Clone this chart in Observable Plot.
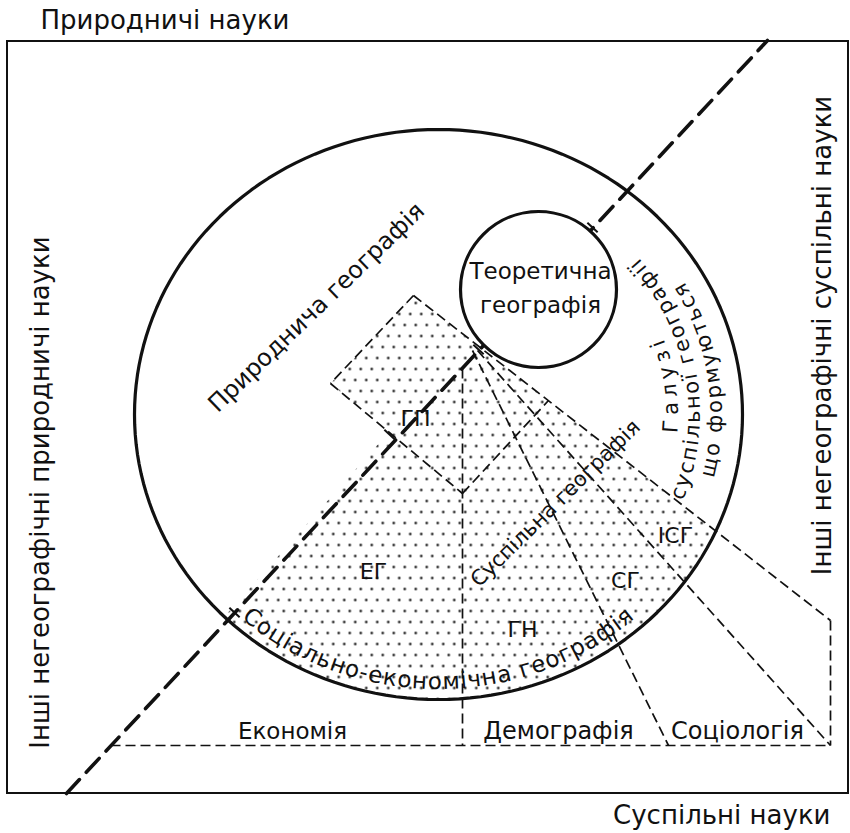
<!DOCTYPE html>
<html><head><meta charset="utf-8">
<script src="https://cdn.jsdelivr.net/npm/d3@7"></script>
<script src="https://cdn.jsdelivr.net/npm/@observablehq/plot@0.6"></script>
<style>
body{margin:0;background:#fff}
g[aria-label="spaced"] text{letter-spacing:8px}
</style></head><body><div id="chart"></div>
<script>
// ---- diagram data (pixel coordinates of the scheme) ----
const frame = [{x1: 7, y1: 41, x2: 848, y2: 793}];
const bigEllipse = {cx: 438, cy: 414, rx: 304, ry: 285};
const smallCircle = [{x: 538, y: 289}];
const smallCircleR = 78;
const diagonal = [{x: 66, y: 793}, {x: 767, y: 40}];
const gpTop = {x: 413, y: 295}, gpLeft = {x: 330, y: 383};
const gpDiagCross = {x: 388, y: 432};
const longLineEnd = {x: 830, y: 620};
const thinSegments = [
  {x1: 413, y1: 295, x2: 330, y2: 383},
  {x1: 330, y1: 383, x2: 462, y2: 493},
  {x1: 462, y1: 493, x2: 548, y2: 400},
  {x1: 413, y1: 295, x2: 830, y2: 620},
  {x1: 830, y1: 620, x2: 830, y2: 745},
  {x1: 462, y1: 368, x2: 462, y2: 745},
  {x1: 472, y1: 350, x2: 668, y2: 745},
  {x1: 477, y1: 350, x2: 830, y2: 745},
  {x1: 110, y1: 745, x2: 830, y2: 745}
];
const crossTicks = [{x: 592, y: 227}, {x: 478, y: 349}, {x: 389, y: 434}, {x: 234, y: 612}];
const shortLabels = [
  {text: "ГП", x: 415, y: 418},
  {text: "ЕГ", x: 373, y: 571},
  {text: "ГН", x: 522, y: 629},
  {text: "СГ", x: 625, y: 580},
  {text: "ІСГ", x: 675, y: 535}
];
const theoryLabels = [
  {text: "Теоретична", x: 540, y: 271},
  {text: "географія", x: 540, y: 305}
];
const rotatedLabels = [
  {text: "Природнича географія", x: 316, y: 307, rotate: -44, size: 24},
  {text: "Суспільна географія", x: 555, y: 503, rotate: -44.5, size: 21},
  {text: "Інші негеографічні природничі науки", x: 40, y: 492, rotate: -90, size: 26},
  {text: "Інші негеографічні суспільні науки", x: 822, y: 335, rotate: -90, size: 26}
];
const bottomLabels = [
  {text: "Демографія", x: 558, y: 731},
  {text: "Соціологія", x: 737, y: 731}
];
const spacedBottom = [{text: "Економія", x: 292, y: 731}];
const cornerTitles = [
  {text: "Природничі науки", x: 40, y: 20, anchor: "start"},
  {text: "Суспільні науки", x: 830, y: 815, anchor: "end"}
];
// texts that follow the big ellipse: angle span (degrees) and inset from the ellipse
const arcTexts = [
  {text: "Соціально-економічна географія", from: 132, to: 48, inset: 10, size: 23},
  {text: "Галузі", from: 5, to: -20, inset: 64, size: 21},
  {text: "суспільної географії", from: 21, to: -40, inset: 42, size: 21},
  {text: "що формуються", from: 14, to: -30, inset: 20, size: 21}
];

// ---- geometry helpers ----
const E = bigEllipse;
const ellipsePts = d3.range(0, 361, 2).map(a => ({x: E.cx + E.rx * Math.cos(a * Math.PI / 180), y: E.cy + E.ry * Math.sin(a * Math.PI / 180)}));
function hitEllipse(a, b) {
  const dx = b.x - a.x, dy = b.y - a.y, ox = (a.x - E.cx) / E.rx, oy = (a.y - E.cy) / E.ry, px = dx / E.rx, py = dy / E.ry;
  const A = px * px + py * py, B = 2 * (ox * px + oy * py), C = ox * ox + oy * oy - 1;
  const t = (-B + Math.sqrt(B * B - 4 * A * C)) / (2 * A);
  return {x: a.x + t * dx, y: a.y + t * dy};
}
const angOf = p => Math.atan2((p.y - E.cy) / E.ry, (p.x - E.cx) / E.rx);
const dInt = hitEllipse(gpDiagCross, diagonal[0]);
const lInt = hitEllipse(gpTop, longLineEnd);
const a0 = angOf(dInt), a1 = angOf(lInt);
const arcPts = d3.range(0, 61).map(i => { const a = a0 + (a1 - a0) * i / 60; return {x: E.cx + E.rx * Math.cos(a), y: E.cy + E.ry * Math.sin(a)}; });
const dotted = [gpTop, gpLeft, gpDiagCross, dInt, ...arcPts, lInt];
// short ticks across the thick dashed line where it meets the outlines
const dlx = diagonal[1].x - diagonal[0].x, dly = diagonal[1].y - diagonal[0].y, dl = Math.hypot(dlx, dly);
const nx = -dly / dl, ny = dlx / dl;
const tickSegs = crossTicks.map(p => ({x1: p.x - 7 * nx, y1: p.y - 7 * ny, x2: p.x + 7 * nx, y2: p.y + 7 * ny}));

const FONT = "DejaVu Sans";

const arcTextMark = (index, scales) => {
  const g = d3.create("svg:g");
  arcTexts.forEach((s, k) => {
    const pts = d3.range(0, 121).map(i => {
      const a = (s.from + (s.to - s.from) * i / 120) * Math.PI / 180;
      return [scales.x(E.cx + (E.rx - s.inset) * Math.cos(a)), scales.y(E.cy + (E.ry - s.inset) * Math.sin(a))];
    });
    let len = 0; for (let i = 1; i < pts.length; i++) len += Math.hypot(pts[i][0] - pts[i-1][0], pts[i][1] - pts[i-1][1]);
    g.append("path").attr("id", "arcpath" + k).attr("fill", "none").attr("stroke", "none").attr("d", d3.line()(pts));
    g.append("text").attr("font-family", FONT).attr("font-size", s.size).attr("fill", "#111")
      .attr("text-anchor", "start")
      .attr("textLength", len).attr("lengthAdjust", "spacing")
      .append("textPath").attr("href", "#arcpath" + k).attr("startOffset", 0).text(s.text);
  });
  return g.node();
};

const plot = Plot.plot({
  width: 850, height: 833, margin: 0,
  x: {domain: [0, 850], range: [0, 850], axis: null},
  y: {domain: [0, 833], range: [0, 833], axis: null},
  marks: [
    Plot.line(dotted, {x: "x", y: "y", curve: "linear-closed", fill: "url(#dots)", stroke: "none"}),
    Plot.rect(frame, {x1: "x1", y1: "y1", x2: "x2", y2: "y2", fill: "none", stroke: "#111", strokeWidth: 2}),
    Plot.link(thinSegments, {x1: "x1", y1: "y1", x2: "x2", y2: "y2", stroke: "#111", strokeWidth: 1.7, strokeDasharray: "10,5"}),
    Plot.line(ellipsePts, {x: "x", y: "y", curve: "linear-closed", stroke: "#111", strokeWidth: 3.2, fill: "none"}),
    Plot.line(diagonal, {x: "x", y: "y", stroke: "#111", strokeWidth: 3.6, strokeDasharray: "19,10"}),
    Plot.dot(smallCircle, {x: "x", y: "y", r: smallCircleR, fill: "white", stroke: "#111", strokeWidth: 3.2}),
    Plot.link(tickSegs, {x1: "x1", y1: "y1", x2: "x2", y2: "y2", stroke: "#111", strokeWidth: 2}),
    Plot.text(shortLabels, {x: "x", y: "y", text: "text", fontSize: 22, fontFamily: FONT, fill: "#111"}),
    Plot.text(theoryLabels, {x: "x", y: "y", text: "text", fontSize: 23, fontFamily: FONT, fill: "#111"}),
    Plot.text(rotatedLabels, {x: "x", y: "y", text: "text", rotate: "rotate", fontSize: d => d.size, fontFamily: FONT, fill: "#111"}),
    Plot.text(bottomLabels, {x: "x", y: "y", text: "text", fontSize: 24, fontFamily: FONT, fill: "#111"}),
    Plot.text(spacedBottom, {x: "x", y: "y", text: "text", fontSize: 23, fontFamily: FONT, fill: "#111", ariaLabel: "spaced"}),
    Plot.text(cornerTitles, {x: "x", y: "y", text: "text", textAnchor: "start", fontSize: 26, fontFamily: FONT, fill: "#111", filter: d => d.anchor === "start"}),
    Plot.text(cornerTitles, {x: "x", y: "y", text: "text", textAnchor: "end", fontSize: 26, fontFamily: FONT, fill: "#111", filter: d => d.anchor === "end"}),
    arcTextMark
  ]
});
const defs = d3.select(plot).insert("defs", ":first-child");
const pat = defs.append("pattern").attr("id", "dots").attr("patternUnits", "userSpaceOnUse").attr("width", 11).attr("height", 22);
[[2.75, 5.5], [8.25, 16.5]].forEach(([cx, cy]) => pat.append("circle").attr("cx", cx).attr("cy", cy).attr("r", 1.3).attr("fill", "#111"));
document.getElementById("chart").appendChild(plot);
</script></body></html>
